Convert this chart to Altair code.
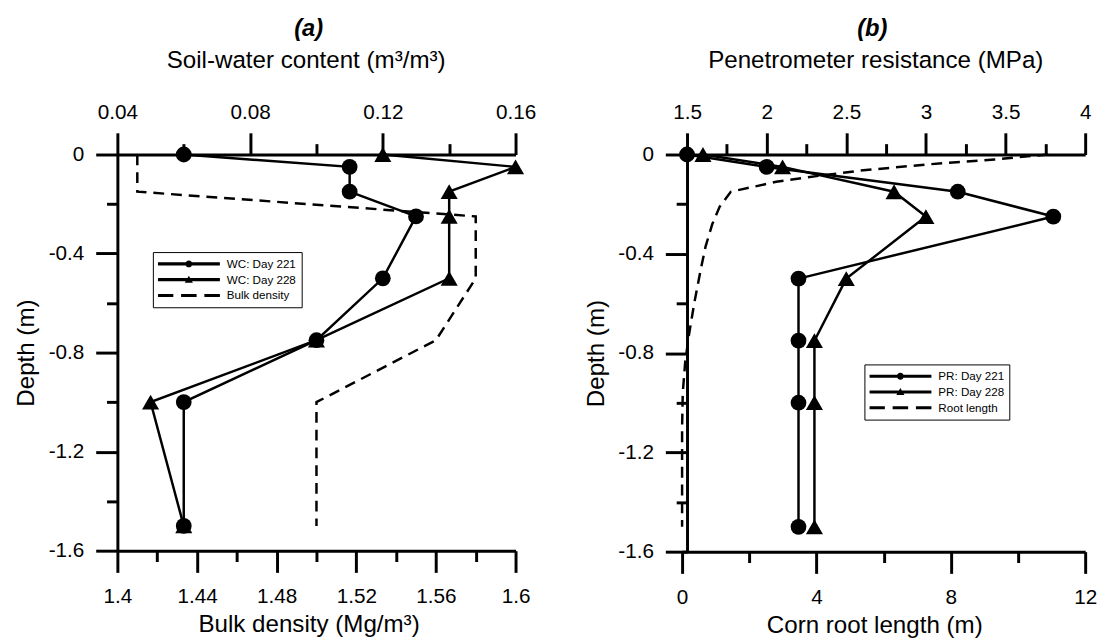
import altair as alt
import pandas as pd

# ---------------- data ----------------
depth = [0, -0.05, -0.15, -0.25, -0.5, -0.75, -1.0, -1.5]
wc_day221 = [0.06, 0.11, 0.11, 0.13, 0.12, 0.10, 0.06, 0.06]
wc_day228 = [0.12, 0.16, 0.14, 0.14, 0.14, 0.10, 0.05, 0.06]
bd_depth = [0, -0.15, -0.25, -0.5, -0.75, -1.0, -1.5]
bulk_density = [1.41, 1.41, 1.58, 1.58, 1.56, 1.50, 1.50]

pr_day221 = [1.5, 2.0, 3.2, 3.8, 2.2, 2.2, 2.2, 2.2]
pr_day228 = [1.6, 2.1, 2.8, 3.0, 2.5, 2.3, 2.3, 2.3]
root_depth = [0, -0.02, -0.04, -0.065, -0.087, -0.11, -0.15, -0.21, -0.28,
              -0.37, -0.46, -0.6, -0.73, -0.84, -0.96, -1.1, -1.5]
root_length = [10.9, 9.3, 7.3, 5.3, 4.0, 2.8, 1.45, 1.12, 0.9,
               0.7, 0.56, 0.36, 0.2, 0.09, 0.02, 0.0, 0.0]

# axis tick values
wc_ticks = [0.04, 0.08, 0.12, 0.16]
wc_minor = [0.06, 0.10, 0.14]
bd_ticks = [1.4, 1.44, 1.48, 1.52, 1.56, 1.6]
bd_minor = [1.42, 1.46, 1.50, 1.54, 1.58]
pr_ticks = [1.5, 2, 2.5, 3, 3.5, 4]
pr_minor = [1.75, 2.25, 2.75, 3.25, 3.75]
root_ticks = [0, 4, 8, 12]
root_minor = [2, 6, 10]
depth_ticks = [0, -0.4, -0.8, -1.2, -1.6]
depth_minor = [-0.2, -0.6, -1.0, -1.4]

legend_a = ["WC: Day 221", "WC: Day 228", "Bulk density"]
legend_b = ["PR: Day 221", "PR: Day 228", "Root length"]

# ---------------- style ----------------
W = 404
FONT = "Liberation Sans"
MAJOR, MINOR = 22, 11
LW = 2.5
DASH = [11, 7]
DEPTH_LABEL = "datum.value == 0 ? '0' : '-' + format(-datum.value, '.1f')"

# legend symbols: line with marker / dashed line (unit square -1..1)
P_CIRCLE = "M-1,-0.05H1V0.05H-1Z M-0.11,0A0.11,0.11 0 1,1 0.11,0A0.11,0.11 0 1,1 -0.11,0Z"
P_TRI = "M-1,-0.05H1V0.05H-1Z M0,-0.13L0.13,0.1H-0.13Z"
P_DASH = "M-1,-0.05H-0.5V0.05H-1Z M-0.25,-0.05H0.25V0.05H-0.25Z M0.5,-0.05H1V0.05H0.5Z"


def profile(values, depths, name):
    return pd.DataFrame({"v": values, "depth": depths, "series": name,
                         "i": list(range(len(values)))})


yscale = alt.Scale(domain=[-1.6, 0], nice=False, zero=False)


def y_enc(axis):
    return alt.Y("depth:Q", scale=yscale, axis=axis)


y_major = alt.Axis(orient="left", values=depth_ticks, tickSize=MAJOR, labelPadding=12,
                   labelExpr=DEPTH_LABEL, title="Depth (m)", titlePadding=10, grid=False)
y_minor = alt.Axis(orient="left", values=depth_minor, tickSize=MINOR, labels=False,
                   domain=False, grid=False, title=None)


def top_major(values, fmt, title, tx):
    return alt.Axis(orient="top", values=values, format=fmt, tickSize=MAJOR, labelPadding=11,
                    title=title, titlePadding=29, titleX=tx, grid=False,
                    labelFlush=False, labelOverlap=False)


def bot_major(values, fmt, title, tx):
    return alt.Axis(orient="bottom", values=values, format=fmt, tickSize=MAJOR, labelPadding=14,
                    title=title, titlePadding=6, titleX=tx, grid=False,
                    labelFlush=False, labelOverlap=False)


def minor_axis(orient, values):
    return alt.Axis(orient=orient, values=values, tickSize=MINOR, labels=False,
                    domain=False, grid=False, title=None)


def legend_layer(names, lx, ly):
    df = pd.DataFrame({"series": names})
    return alt.Chart(df).mark_point(filled=True, color="black", opacity=0).encode(
        shape=alt.Shape(
            "series:N",
            scale=alt.Scale(domain=names, range=[P_CIRCLE, P_TRI, P_DASH]),
            legend=alt.Legend(
                title=None, orient="none", legendX=lx, legendY=ly,
                symbolSize=3969, clipHeight=14, rowPadding=2, labelOffset=7,
                padding=5, strokeColor="black", fillColor="white",
                symbolOpacity=1, symbolFillColor="black", symbolStrokeWidth=0,
                labelFontSize=11.8, labelFont=FONT, labelColor="black",
            ),
        )
    )


def panel(tag, tag_dx, tag_offset, height, s1, s2,
          top_domain, top_ticks, top_minor_vals, top_fmt, top_title, top_tx,
          bot_df, bot_domain, bot_range, bot_ticks, bot_minor_vals, bot_fmt, bot_title, bot_tx,
          names, lx, ly):
    top_scale = alt.Scale(domain=top_domain, nice=False, zero=False)
    if bot_range:
        bot_scale = alt.Scale(domain=bot_domain, range=bot_range, nice=False, zero=False)
    else:
        bot_scale = alt.Scale(domain=bot_domain, nice=False, zero=False)

    both = pd.concat([s1, s2], ignore_index=True)
    lines = alt.Chart(both).mark_line(color="black", strokeWidth=LW).encode(
        x=alt.X("v:Q", scale=top_scale, axis=top_major(top_ticks, top_fmt, top_title, top_tx)),
        y=y_enc(y_major),
        detail="series:N",
        order="i:Q",
    )
    pts1 = alt.Chart(s1).mark_point(shape="circle", filled=True, size=256, color="black",
                                    opacity=1).encode(
        x=alt.X("v:Q", scale=top_scale, axis=minor_axis("top", top_minor_vals)),
        y=y_enc(y_minor),
    )
    pts2 = alt.Chart(s2).mark_point(shape="triangle-up", filled=True, size=300, color="black",
                                    opacity=1).encode(
        x=alt.X("v:Q", scale=top_scale, axis=None),
        y=y_enc(None),
    )
    inner_top = alt.layer(lines, pts1, pts2).resolve_axis(x="independent", y="independent")

    dashed = alt.Chart(bot_df).mark_line(color="black", strokeWidth=LW, strokeDash=DASH).encode(
        x=alt.X("v:Q", scale=bot_scale, axis=bot_major(bot_ticks, bot_fmt, bot_title, bot_tx)),
        y=y_enc(None),
        order="i:Q",
    )
    bot_minor_layer = alt.Chart(bot_df).mark_line(opacity=0).encode(
        x=alt.X("v:Q", scale=bot_scale, axis=minor_axis("bottom", bot_minor_vals)),
        y=y_enc(None),
        order="i:Q",
    )
    inner_bot = alt.layer(dashed, bot_minor_layer).resolve_axis(x="independent")

    return alt.layer(inner_top, inner_bot, legend_layer(names, lx, ly)).resolve_scale(
        x="independent"
    ).properties(
        width=W, height=height,
        title=alt.TitleParams(tag, fontSize=24, fontWeight="bold", fontStyle="italic",
                              font=FONT, color="black", offset=tag_offset, dx=tag_dx),
    )


panel_a = panel(
    "(a)", -8, 7, 402,
    profile(wc_day221, depth, "WC: Day 221"), profile(wc_day228, depth, "WC: Day 228"),
    [0.04, 0.16], wc_ticks, wc_minor, ".2f", "Soil-water content (m³/m³)", 191,
    profile(bulk_density, bd_depth, "Bulk density"), [1.4, 1.6], None,
    bd_ticks, bd_minor, "~g", "Bulk density (Mg/m³)", 194,
    legend_a, 36, 99,
)

panel_b = panel(
    "(b)", -14, 7, 403,
    profile(pr_day221, depth, "PR: Day 221"), profile(pr_day228, depth, "PR: Day 228"),
    [1.5, 4], pr_ticks, pr_minor, "~g", "Penetrometer resistance (MPa)", 191,
    profile(root_length, root_depth, "Root length"), [0, 12], [-5, W],
    root_ticks, root_minor, "d", "Corn root length (m)", 190,
    legend_b, 180, 213,
)

chart = alt.hconcat(panel_a, panel_b, spacing=47).resolve_scale(
    shape="independent"
).resolve_legend(shape="independent").properties(
    padding={"left": 5, "top": 5, "right": 0, "bottom": 0}
).configure(font=FONT).configure_axis(
    domainColor="black", domainWidth=3, tickColor="black", tickWidth=3,
    labelColor="black", titleColor="black", labelFont=FONT, titleFont=FONT,
    labelFontSize=21, titleFontSize=24.5, titleFontWeight="normal", grid=False,
).configure_view(strokeWidth=0)

chart.save("out.html", embed_options={"renderer": "svg", "actions": False})
